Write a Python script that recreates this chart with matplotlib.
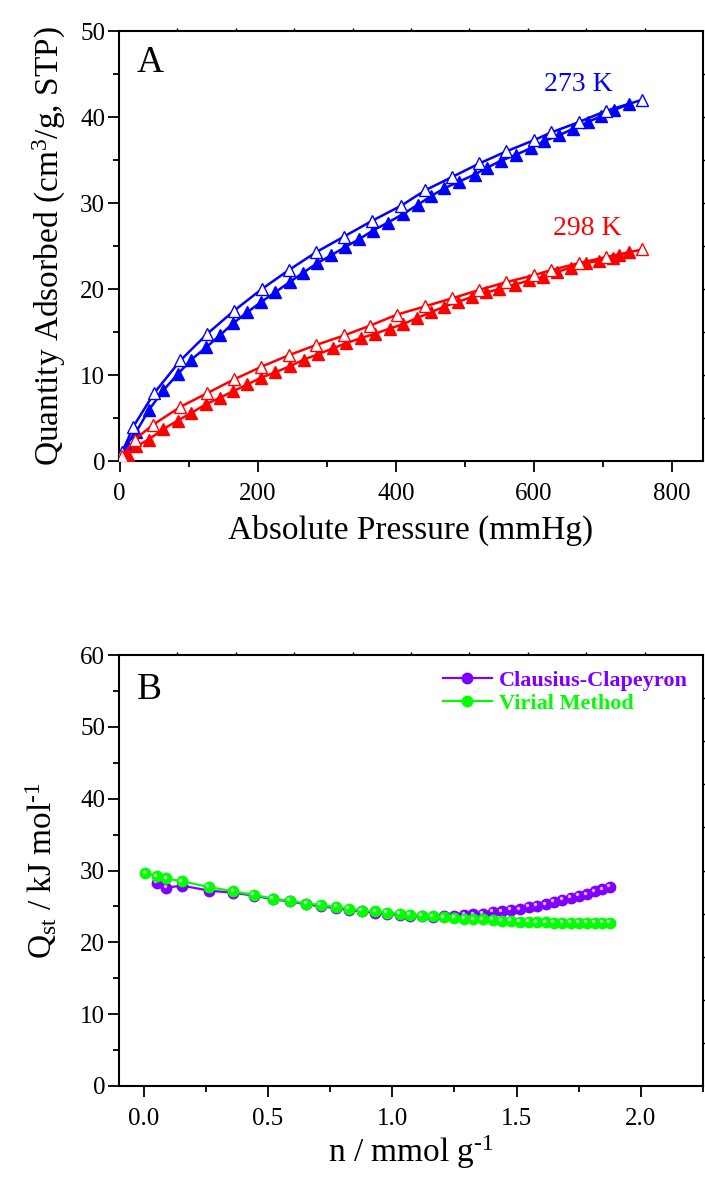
import numpy as np
import matplotlib
matplotlib.use('Agg')
import matplotlib.pyplot as plt
import matplotlib.transforms as mtransforms
from matplotlib.ticker import MultipleLocator

plt.rcParams['font.family'] = ['Liberation Serif', 'DejaVu Serif']
plt.rcParams['mathtext.fontset'] = 'custom'
plt.rcParams['mathtext.rm'] = 'Liberation Serif'
plt.rcParams['mathtext.it'] = 'Liberation Serif:italic'
plt.rcParams['mathtext.bf'] = 'Liberation Serif:bold'

# --- panel A: isotherms (mmHg, cm3/g STP) ---
p273_ads = [2, 5, 10, 24, 42, 63, 84, 104, 125, 145, 164, 185, 205, 225, 246, 266, 286, 306,
            327, 347, 367, 388, 410, 432, 451, 470, 492, 514, 532, 552, 574, 596, 615, 637,
            656, 678, 697, 716, 738]
q273_ads = [0.3, 0.8, 1.9, 3.4, 5.9, 8.2, 10.1, 11.8, 13.2, 14.6, 16.0, 17.3, 18.5, 19.6, 20.8,
            21.9, 23.0, 23.9, 24.9, 25.8, 26.8, 27.7, 28.7, 29.8, 30.8, 31.7, 32.5, 33.3, 34.1,
            34.9, 35.6, 36.4, 37.2, 37.9, 38.6, 39.4, 40.1, 40.8, 41.5]
p273_des = [757, 704, 665, 625, 600, 560, 521, 481, 443, 408, 365, 325, 285, 245, 206, 166,
            127, 88, 50, 19, 4]
q273_des = [42.0, 40.7, 39.4, 38.2, 37.3, 36.0, 34.6, 33.0, 31.5, 29.7, 27.9, 26.1, 24.3, 22.2,
            20.0, 17.5, 14.8, 11.7, 7.9, 3.9, 1.0]

p298_ads = [2, 12, 24, 42, 63, 84, 104, 125, 145, 164, 185, 205, 225, 246, 267, 287, 309, 328,
            350, 370, 391, 410, 430, 451, 470, 490, 511, 531, 550, 572, 593, 613, 634, 654,
            675, 695, 714, 724, 738]
q298_ads = [0.2, 0.75, 1.7, 2.5, 3.7, 4.7, 5.6, 6.6, 7.35, 8.1, 8.9, 9.7, 10.3, 11.0, 11.8, 12.4,
            13.1, 13.7, 14.3, 14.8, 15.4, 15.9, 16.6, 17.3, 17.95, 18.5, 19.1, 19.6, 20.0,
            20.5, 21.0, 21.4, 22.0, 22.5, 23.0, 23.3, 23.6, 23.9, 24.3]
p298_des = [757, 704, 665, 625, 600, 560, 521, 481, 443, 401, 363, 325, 285, 245, 205, 166,
            127, 88, 48, 22, 4]
q298_des = [24.6, 23.7, 23.0, 22.2, 21.6, 20.8, 19.9, 18.9, 18.0, 17.0, 15.75, 14.6, 13.5,
            12.3, 10.95, 9.5, 7.9, 6.3, 4.2, 2.5, 0.6]

# --- panel B: isosteric heat (mmol/g, kJ/mol) ---
n_virial = [0.006, 0.053, 0.09, 0.153, 0.262, 0.36, 0.443, 0.518, 0.587, 0.654, 0.712, 0.775,
            0.826, 0.878, 0.931, 0.978, 1.03, 1.071, 1.118, 1.163, 1.207, 1.25, 1.29, 1.326,
            1.363, 1.403, 1.44, 1.477, 1.513, 1.548, 1.581, 1.618, 1.651, 1.684, 1.718,
            1.751, 1.782, 1.814, 1.845, 1.876]
q_virial = [29.6, 29.2, 28.9, 28.5, 27.7, 27.1, 26.6, 26.1, 25.8, 25.4, 25.2, 24.9, 24.7,
            24.4, 24.3, 24.1, 24.0, 23.85, 23.7, 23.6, 23.5, 23.4, 23.3, 23.2, 23.2, 23.1,
            23.0, 22.96, 22.9, 22.9, 22.8, 22.8, 22.7, 22.7, 22.7, 22.7, 22.7, 22.7, 22.7,
            22.7]
n_cc = n_virial[1:]
q_cc = [28.3, 27.6, 27.9, 27.2, 26.9, 26.5, 26.0, 25.7, 25.3, 25.0, 24.8, 24.5, 24.3, 24.1,
        24.0, 23.8, 23.7, 23.6, 23.55, 23.6, 23.7, 23.85, 23.9, 24.0, 24.2, 24.3, 24.5, 24.6,
        24.9, 25.1, 25.3, 25.6, 25.9, 26.15, 26.5, 26.7, 27.1, 27.4, 27.7]

fig = plt.figure(figsize=(7.05, 11.78), dpi=100)
axA = fig.add_axes([119/705, 1 - 461/1178, 584/705, 430/1178])
axB = fig.add_axes([119/705, 1 - 1086/1178, 584/705, 431/1178])


def style(ax):
    for s in ax.spines.values():
        s.set_linewidth(1.5)
    ax.tick_params(which='both', direction='out', width=1.3, labelsize=18,
                   top=False, right=False)
    ax.tick_params(which='major', length=8)
    ax.tick_params(which='minor', length=4.5)
    ax.tick_params(axis='x', which='both', pad=8)
    ax.tick_params(axis='y', which='both', pad=2)
    # small ticks on the top and right frame
    tw = ax.twiny()
    tw.set_xlim(0, 10)
    tw.set_xticks(np.arange(1, 10))
    tw.tick_params(axis='x', direction='out', length=2, width=1, labeltop=False)
    tw.spines[:].set_visible(False)
    rt = tw.twinx()
    rt.set_ylim(0, 10)
    rt.set_yticks(np.arange(1, 10))
    rt.tick_params(axis='y', direction='out', length=2, width=1, labelright=False)
    rt.spines[:].set_visible(False)


# panel A
blue, red = '#0000ff', '#ff0000'
axA.plot(p273_ads, q273_ads, '-^', color=blue, ms=8, lw=1.8, zorder=3)
axA.plot(p273_des, q273_des, '-^', color=blue, mfc='white', mec=blue, ms=9, mew=1.0, lw=1.8, zorder=3)
axA.plot(p298_ads, q298_ads, '-^', color=red, ms=8, lw=1.8, zorder=3)
axA.plot(p298_des, q298_des, '-^', color=red, mfc='white', mec=red, ms=9, mew=1.0, lw=1.8, zorder=3)
axA.set_xlim(-1, 845)
axA.set_ylim(0, 50)
axA.xaxis.set_major_locator(MultipleLocator(200))
axA.xaxis.set_minor_locator(MultipleLocator(100))
axA.yaxis.set_major_locator(MultipleLocator(10))
axA.yaxis.set_minor_locator(MultipleLocator(5))
axA.set_xlabel('Absolute Pressure (mmHg)', fontsize=24, labelpad=7)
axA.set_ylabel('Quantity Adsorbed (cm$^3$/g, STP)', fontsize=24, labelpad=9)
axA.text(615, 43.8, '273 K', color=blue, fontsize=20, va='center')
axA.text(627, 27.0, '298 K', color=red, fontsize=20, va='center')
axA.text(0.03, 0.925, 'A', transform=axA.transAxes, fontsize=27, va='center')
style(axA)

# panel B
purple, green = '#8000ff', '#00ff00'
hl = mtransforms.offset_copy(axB.transData, fig=fig, x=-1.2, y=1.2, units='points')
lcc, = axB.plot(n_cc, q_cc, '-o', color=purple, ms=7.5, lw=1.6, mec=purple, zorder=3,
                label='Clausius-Clapeyron')
axB.plot(n_cc, q_cc, 'o', color='#d9b3ff', ms=2.5, mew=0, transform=hl, zorder=3)
lvm, = axB.plot(n_virial, q_virial, '-o', color=green, ms=7.5, lw=1.6, mec=green, zorder=4,
                label='Virial Method')
axB.plot(n_virial, q_virial, 'o', color='#c8ffc8', ms=2.5, mew=0, transform=hl, zorder=4)
axB.set_xlim(-0.1, 2.25)
axB.set_ylim(0, 60)
axB.xaxis.set_major_locator(MultipleLocator(0.5))
axB.xaxis.set_minor_locator(MultipleLocator(0.25))
axB.yaxis.set_major_locator(MultipleLocator(10))
axB.yaxis.set_minor_locator(MultipleLocator(5))
axB.set_xlabel('n / mmol g$^{\\text{-1}}$', fontsize=24, labelpad=2)
axB.set_ylabel('Q$_{\\mathrm{st}}$ / kJ mol$^{\\text{-1}}$', fontsize=24, labelpad=15)
axB.text(0.03, 0.92, 'B', transform=axB.transAxes, fontsize=27, va='center')
leg = axB.legend(handles=[lcc, lvm], loc='upper right', frameon=False,
                 prop={'weight': 'bold', 'size': 16}, handlelength=2.2,
                 handletextpad=0.3, labelspacing=0.1, borderaxespad=0.3)
for t, c in zip(leg.get_texts(), [purple, green]):
    t.set_color(c)
style(axB)

fig.savefig('out.png', dpi=100)
